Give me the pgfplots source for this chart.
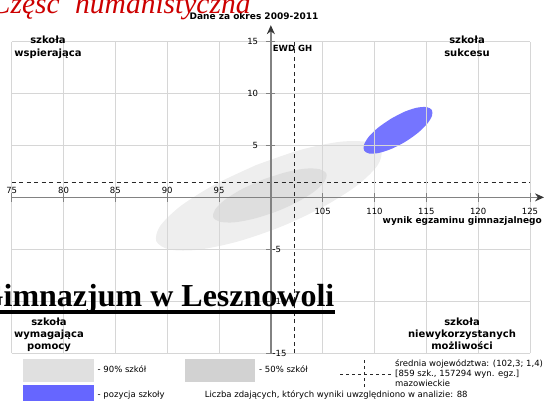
\documentclass[border=0pt]{standalone}
\usepackage{pgfplots}
\pgfplotsset{compat=1.18}
\usetikzlibrary{arrows.meta}
\usepackage{fontspec}
\setmainfont{DejaVu Sans}
\newfontfamily\titleserif{Liberation Serif}
\definecolor{gridc}{RGB}{214,214,214}
\definecolor{axc}{RGB}{130,130,130}
\definecolor{arrc}{RGB}{55,55,55}
\definecolor{g90}{RGB}{224,224,224}
\definecolor{g50}{RGB}{210,210,210}
\definecolor{blue1}{RGB}{102,102,255}
\definecolor{titlered}{RGB}{204,0,0}
\definecolor{dashc}{RGB}{40,40,40}
\begin{document}
\begin{tikzpicture}
\path[use as bounding box] (0pt,0pt) rectangle (548pt,400pt);
\clip (0pt,0pt) rectangle (548pt,400pt);
\begin{axis}[
  at={(11.7pt,47pt)}, anchor=south west,
  scale only axis, width=518.3pt, height=311.3pt,
  xmin=-25, xmax=25, ymin=-15, ymax=15,
  x filter/.expression={x-100},
  axis lines=middle,
  axis on top,
  grid=major,
  major grid style={draw=gridc, line width=0.9pt},
  axis line style={draw=axc, line width=1.3pt},
  x axis line style={-{Stealth[length=9pt,width=8pt,color=arrc]}, shorten >=-14pt},
  y axis line style={-{Stealth[length=9pt,width=8pt,color=arrc]}, shorten >=-16.5pt},
  major tick length=9pt, tick align=center,
  tick style={draw=axc, line width=0.9pt},
  tick label style={font=\fontsize{8.5}{10}\selectfont, inner sep=1pt},
  xtick={-25,-20,-15,-10,-5}, xticklabels={75,80,85,90,95},
  xticklabel style={anchor=south, yshift=7pt},
  extra x ticks={5,10,15,20,25}, extra x tick labels={105,110,115,120,125},
  extra x tick style={grid=major, every x tick label/.style={anchor=north, yshift=-5pt, font=\fontsize{8.5}{10}\selectfont, inner sep=1pt}},
  ytick={5,10,15}, yticklabels={5,10,15},
  yticklabel style={anchor=east, xshift=-7pt},
  extra y ticks={-5,-10,-15}, extra y tick labels={-5,-10,-15},
  extra y tick style={grid=major, every y tick label/.style={anchor=west, xshift=5pt, font=\fontsize{8.5}{10}\selectfont, inner sep=1pt}},
]
% 90% of schools
\addplot[draw=none, fill=g90, fill opacity=0.55, smooth] coordinates {
(98.60,3.12) (94.54,1.21) (91.28,-0.85) (89.32,-2.76) (88.95,-4.23) (90.24,-5.03) (92.98,-5.05) (96.76,-4.27) (101.00,-2.82) (105.06,-0.91) (108.32,1.15) (110.28,3.06) (110.65,4.53) (109.36,5.33) (106.62,5.35) (102.84,4.57) (98.60,3.12)} -- cycle;
% 50% of schools
\addplot[draw=none, fill=g50, fill opacity=0.55, smooth] coordinates {
(99.30,1.74) (97.26,0.82) (95.61,-0.20) (94.63,-1.16) (94.44,-1.92) (95.08,-2.35) (96.46,-2.41) (98.36,-2.06) (100.50,-1.38) (102.54,-0.46) (104.19,0.56) (105.18,1.52) (105.36,2.28) (104.72,2.71) (103.34,2.77) (101.44,2.42) (99.30,1.74)} -- cycle;
% school position
\addplot[draw=none, fill=blue1, fill opacity=0.9, smooth] coordinates {
(111.59,7.58) (110.39,6.75) (109.47,5.87) (108.99,5.08) (109.00,4.50) (109.50,4.22) (110.43,4.28) (111.63,4.67) (112.94,5.34) (114.13,6.17) (115.05,7.05) (115.54,7.84) (115.53,8.42) (115.02,8.70) (114.09,8.64) (112.89,8.25) (111.59,7.58)} -- cycle;
% voivodeship average
\addplot[draw=dashc, line width=0.8pt, dash pattern=on 4pt off 3.5pt] coordinates {(102.3,-15) (102.3,15)};
\addplot[draw=dashc, line width=0.8pt, dash pattern=on 4pt off 3.5pt] coordinates {(75,1.4) (125,1.4)};
\end{axis}
% axis titles
\node[anchor=base, font=\bfseries\fontsize{9}{10}\selectfont, inner sep=0pt] at (254pt,380pt) {Dane za okres 2009-2011};
\node[anchor=base west, font=\bfseries\fontsize{8.5}{10}\selectfont, inner sep=0pt] at (272.7pt,348.3pt) {EWD GH};
\node[anchor=base east, font=\bfseries\fontsize{9}{10}\selectfont, inner sep=0pt] at (542pt,177pt) {wynik egzaminu gimnazjalnego};
% quadrant labels
\begin{scope}[every node/.style={anchor=base, font=\bfseries\fontsize{10}{12}\selectfont, inner sep=0pt}]
\node at (48pt,356.5pt) {szkoła};
\node at (48pt,344pt) {wspierająca};
\node at (467pt,356.5pt) {szkoła};
\node at (467pt,344pt) {sukcesu};
\node at (49pt,74.5pt) {szkoła};
\node at (49pt,62.5pt) {wymagająca};
\node at (49pt,50.5pt) {pomocy};
\node at (462pt,74.5pt) {szkoła};
\node at (462pt,62.5pt) {niewykorzystanych};
\node at (462pt,50.5pt) {możliwości};
\end{scope}
% legend
\fill[g90] (22.8pt,18.4pt) rectangle (94pt,41.2pt);
\fill[g50] (185pt,18.4pt) rectangle (255pt,41.2pt);
\fill[blue1] (22.8pt,-5pt) rectangle (94pt,15pt);
\draw[dashc, line width=0.7pt, dash pattern=on 3pt off 3pt] (340pt,25.5pt) -- (391pt,25.5pt);
\draw[dashc, line width=0.7pt, dash pattern=on 3pt off 3pt] (364.6pt,13pt) -- (364.6pt,42.3pt);
\begin{scope}[every node/.style={anchor=base west, font=\fontsize{8.5}{10}\selectfont, inner sep=0pt}]
\node at (97.5pt,28pt) {- 90\% szkół};
\node at (259pt,28pt) {- 50\% szkół};
\node at (97.5pt,2.5pt) {- pozycja szkoły};
\node at (204.6pt,2.5pt) {Liczba zdających, których wyniki uwzględniono w analizie: 88};
\node at (395pt,34pt) {średnia województwa: (102,3; 1,4)};
\node at (395pt,23.5pt) {[859 szk., 157294 wyn. egz.]};
\node at (395pt,13.5pt) {mazowieckie};
\end{scope}
% overlaid page titles
\node[anchor=base east, text=titlered, font=\titleserif\itshape\fontsize{29.5}{30}\selectfont, inner sep=0pt] at (60pt,386pt) {Część};
\node[anchor=base west, text=titlered, font=\titleserif\itshape\fontsize{29.5}{30}\selectfont, inner sep=0pt] at (75pt,386pt) {humanistyczna};
\node[anchor=base east, font=\titleserif\bfseries\fontsize{32}{34}\selectfont, inner sep=0pt] at (334.5pt,93.4pt) {Gimnazjum w Lesznowoli};
\draw[black, line width=4.5pt] (-5pt,88.2pt) -- (334.5pt,88.2pt);
\end{tikzpicture}
\end{document}
